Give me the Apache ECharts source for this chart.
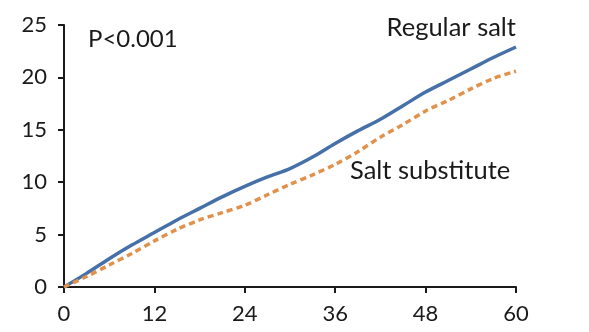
<!DOCTYPE html>
<html><head><meta charset="utf-8">
<script src="https://cdn.jsdelivr.net/npm/echarts@6/dist/echarts.min.js"></script>
<style>html,body{margin:0;padding:0;background:#fff}#c{width:589px;height:332px}</style>
</head><body><div id="c"></div>
<script>
const months = [0,3,6,9,12,15,18,21,24,27,30,33,36,39,42,45,48,51,54,57,60];
const regularSalt = [0,1.3,2.7,4.0,5.2,6.4,7.5,8.6,9.6,10.5,11.3,12.4,13.7,14.9,16.0,17.3,18.6,19.7,20.8,21.9,22.9];
const saltSubstitute = [0,1.0,2.1,3.2,4.4,5.5,6.4,7.1,7.8,8.8,9.8,10.7,11.7,12.9,14.3,15.5,16.8,17.8,18.9,19.9,20.6];
const xTicks = [0,12,24,36,48,60];
const yTicks = [0,5,10,15,20,25];

const chart = echarts.init(document.getElementById('c'), null, {renderer:'canvas'});
const font = 'Lato, "Open Sans", sans-serif';
const axisCommon = {
  axisLine:{show:true,lineStyle:{color:'#1a1a1a',width:2}},
  axisTick:{show:true,length:6,lineStyle:{color:'#1a1a1a',width:2}},
  splitLine:{show:false},
  axisLabel:{color:'#1a1a1a',fontSize:22,fontFamily:font}
};
chart.setOption({
  animation:false,
  grid:{left:64,right:73,top:25,bottom:45},
  xAxis:Object.assign({type:'value',min:xTicks[0],max:xTicks[xTicks.length-1],interval:12},axisCommon,
    {axisLabel:Object.assign({},axisCommon.axisLabel,{margin:16})}),
  yAxis:Object.assign({type:'value',min:yTicks[0],max:yTicks[yTicks.length-1],interval:5},axisCommon,
    {axisLabel:Object.assign({},axisCommon.axisLabel,{margin:17})}),
  series:[
    {name:'Regular salt',type:'line',showSymbol:false,smooth:0.3,
     data:months.map((m,i)=>[m,regularSalt[i]]),
     lineStyle:{color:'#4670a8',width:3.5}},
    {name:'Salt substitute',type:'line',showSymbol:false,smooth:0.3,
     data:months.map((m,i)=>[m,saltSubstitute[i]]),
     lineStyle:{color:'#e0924c',width:3.5,type:[6,4]}}
  ],
  graphic:[
    {type:'text',left:88,top:27,style:{text:'P<0.001',font:'24px '+font,fill:'#1a1a1a'}},
    {type:'text',right:73,top:15,style:{text:'Regular salt',font:'25.5px '+font,fill:'#1a1a1a'}},
    {type:'text',left:350,top:158,style:{text:'Salt substitute',font:'25.5px '+font,fill:'#1a1a1a'}}
  ]
});
</script></body></html>
